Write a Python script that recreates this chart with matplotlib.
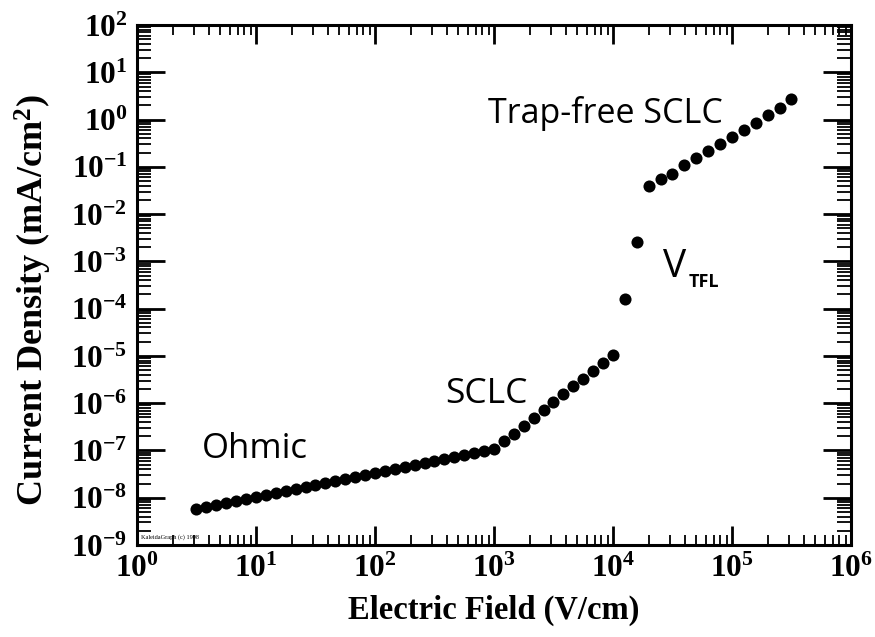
import numpy as np
import matplotlib
matplotlib.use("Agg")
import matplotlib.pyplot as plt
from matplotlib.ticker import LogLocator, FuncFormatter, NullFormatter

plt.rcParams['mathtext.fontset'] = 'custom'
plt.rcParams['mathtext.rm'] = 'Liberation Serif:bold'
plt.rcParams['mathtext.bf'] = 'Liberation Serif:bold'
plt.rcParams['mathtext.it'] = 'Liberation Serif:bold'
plt.rcParams['mathtext.default'] = 'bf'

# Ohmic region
campo_ohm = [3.16, 3.83, 4.64, 5.62, 6.81, 8.25, 10.0, 12.1, 14.7, 17.8, 21.5,
             26.1, 31.6, 38.3, 46.4, 56.2, 68.1, 82.5, 100, 121, 147, 178, 215,
             261, 316, 383, 464, 562, 681, 825, 1000]
j_ohm = [5.69e-9, 6.27e-9, 6.92e-9, 7.62e-9, 8.39e-9, 9.25e-9, 1.02e-8, 1.12e-8,
         1.24e-8, 1.36e-8, 1.51e-8, 1.66e-8, 1.83e-8, 2.01e-8, 2.22e-8, 2.45e-8,
         2.70e-8, 2.97e-8, 3.28e-8, 3.61e-8, 3.98e-8, 4.39e-8, 4.84e-8, 5.33e-8,
         5.87e-8, 6.47e-8, 7.14e-8, 7.87e-8, 8.67e-8, 9.55e-8, 1.05e-7]

# SCLC region
campo_sclc = [1210, 1470, 1780, 2150, 2610, 3160, 3830, 4640, 5620, 6810, 8250, 10000]
j_sclc = [1.55e-7, 2.28e-7, 3.33e-7, 4.90e-7, 7.19e-7, 1.05e-6, 1.55e-6,
          2.28e-6, 3.33e-6, 4.90e-6, 7.19e-6, 1.05e-5]

# trap filling (V_TFL)
campo_tfl = [1.26e4, 1.58e4]
j_tfl = [1.6e-4, 2.6e-3]

# trap-free SCLC
campo_tf = [2.0e4, 2.51e4, 3.16e4, 3.98e4, 5.01e4, 6.31e4, 7.94e4, 1.0e5,
            1.26e5, 1.58e5, 2.0e5, 2.51e5, 3.16e5]
j_tf = [0.0389, 0.0547, 0.0721, 0.108, 0.157, 0.214, 0.311, 0.429, 0.615,
        0.865, 1.24, 1.79, 2.69]

campo = campo_ohm + campo_sclc + campo_tfl + campo_tf
corrente = j_ohm + j_sclc + j_tfl + j_tf

fig = plt.figure(figsize=(8.75, 6.37), dpi=100)
ax = fig.add_axes([0.1566, 0.1444, 0.816, 0.8163])

ax.plot(campo, corrente, 'o', color='black', markersize=8.7, markeredgewidth=0)

ax.set_xscale('log')
ax.set_yscale('log')
ax.set_xlim(1, 1e6)
ax.set_ylim(1e-9, 1e2)

ax.xaxis.set_major_locator(LogLocator(base=10, numticks=20))
ax.yaxis.set_major_locator(LogLocator(base=10, numticks=20))
ax.xaxis.set_minor_locator(LogLocator(base=10, subs=np.arange(2, 10), numticks=20))
ax.yaxis.set_minor_locator(LogLocator(base=10, subs=np.arange(2, 10), numticks=20))
fmt = FuncFormatter(lambda v, p: r'$\mathbf{10^{%d}}$' % int(round(np.log10(v))))
ax.xaxis.set_major_formatter(fmt)
ax.yaxis.set_major_formatter(fmt)
ax.xaxis.set_minor_formatter(NullFormatter())
ax.yaxis.set_minor_formatter(NullFormatter())

for s in ax.spines.values():
    s.set_linewidth(2.2)
ax.tick_params(which='both', direction='in', top=True, right=True)
ax.tick_params(axis='x', which='major', length=14, width=2.0, labelsize=22.5, pad=6)
ax.tick_params(axis='x', which='minor', length=7, width=1.3)
ax.tick_params(axis='y', which='major', length=20, width=2.0, labelsize=22.5, pad=7)
ax.tick_params(axis='y', which='minor', length=10, width=1.3)

ax.set_xlabel('Electric Field (V/cm)', family='Liberation Serif', fontweight='bold',
              fontsize=23.5, labelpad=9)
ax.set_ylabel(r'Current Density (mA/cm$^2$)', family='Liberation Serif',
              fontweight='bold', fontsize=26)
ax.yaxis.set_label_coords(-0.116, 0.47)

# anotacoes
ax.text(0.091, 0.167, 'Ohmic', transform=ax.transAxes, family='Open Sans',
        fontsize=25, va='baseline')
ax.text(0.431, 0.273, 'SCLC', transform=ax.transAxes, family='Open Sans',
        fontsize=25.5, va='baseline')
ax.text(0.492, 0.812, 'Trap-free SCLC', transform=ax.transAxes, family='Open Sans',
        fontsize=24.5, va='baseline')
ax.text(0.737, 0.515, 'V', transform=ax.transAxes, family='Open Sans',
        fontsize=28, va='baseline')
ax.text(0.772, 0.496, 'TFL', transform=ax.transAxes, family='Open Sans',
        fontsize=13, fontweight='bold', va='baseline')
ax.text(0.006, 0.012, 'KaleidaGraph (c) 1998', transform=ax.transAxes,
        family='Liberation Serif', fontsize=4.5)

fig.savefig('out.png', dpi=100)
